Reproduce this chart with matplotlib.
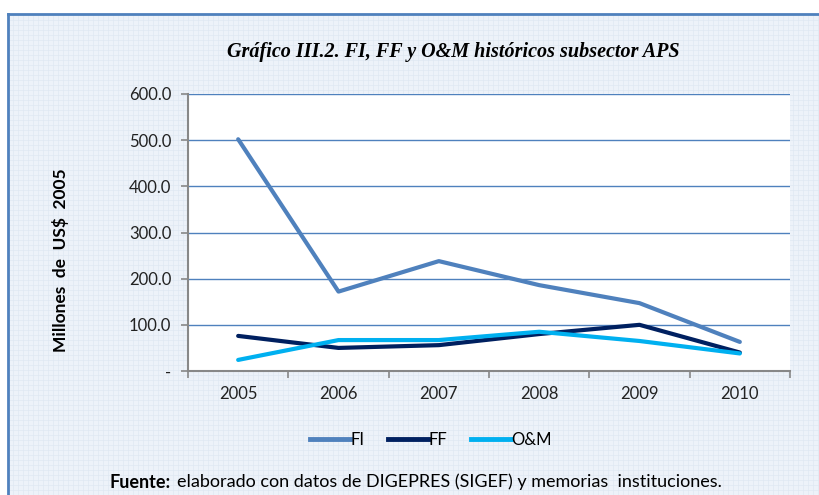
import numpy as np
from matplotlib import pyplot as plt
from matplotlib.lines import Line2D

years = ['2005', '2006', '2007', '2008', '2009', '2010']
fi = [502, 172, 238, 186, 147, 63]
ff = [76, 50, 56, 80, 100, 40]
om = [24, 67, 67, 85, 65, 38]
yticks = [0, 100, 200, 300, 400, 500, 600]
ytick_labels = ['-', '100.0', '200.0', '300.0', '400.0', '500.0', '600.0']

W, H = 820, 495
fig = plt.figure(figsize=(W / 100, H / 100), dpi=100, facecolor='white')

# background panel with the graph-paper look
bg = fig.add_axes([8 / W, 0, (W - 8) / W, (H - 14) / H], zorder=0)
bg.set_facecolor('#edf2f9')
bg.set_xlim(0, W - 8)
bg.set_ylim(0, H - 14)
for v in np.arange(0, W, 5):
    bg.axvline(v, color='#e0e8f3', lw=0.5, zorder=0)
for v in np.arange(0, H, 5):
    bg.axhline(v, color='#e0e8f3', lw=0.5, zorder=0)
bg.set_xticks([])
bg.set_yticks([])
for s in ['right', 'bottom']:
    bg.spines[s].set_visible(False)
for s in ['left', 'top']:
    bg.spines[s].set_color('#4f81bd')
    bg.spines[s].set_linewidth(2)

# plot area
ax = fig.add_axes([188 / W, 1 - 371 / H, 602 / W, 277 / H], zorder=2)
ax.set_facecolor('white')
x = np.arange(len(years))
ax.plot(x, fi, color='#4f81bd', lw=3, solid_capstyle='round', label='FI', zorder=3)
ax.plot(x, ff, color='#002060', lw=3, solid_capstyle='round', label='FF', zorder=3)
ax.plot(x, om, color='#00b0f0', lw=3, solid_capstyle='round', label='O&M', zorder=3)

ax.set_xlim(-0.5, len(years) - 0.5)
ax.set_ylim(0, 600)
ax.set_yticks(yticks)
ax.set_yticklabels(ytick_labels, fontfamily='Lato', fontsize=12, color='#222222')
ax.set_xticks(x)
ax.set_xticklabels(years, fontfamily='Lato', fontsize=12, color='#222222')
ax.set_xticks(np.arange(-0.5, len(years)), minor=True)
ax.tick_params(axis='x', which='major', length=0, pad=11)
ax.tick_params(axis='x', which='minor', length=5, color='#888888', width=1.2)
ax.tick_params(axis='y', length=5, color='#888888', width=1.2, pad=7)
ax.yaxis.grid(True, color='#4f81bd', lw=1)
ax.set_axisbelow(True)
for s in ['top', 'right']:
    ax.spines[s].set_visible(False)
for s in ['left', 'bottom']:
    ax.spines[s].set_color('#888888')
    ax.spines[s].set_linewidth(1.5)
ax.set_ylabel('Millones  de  US$  2005', fontfamily='Lato', fontweight='bold',
              fontsize=12.5)
ax.yaxis.set_label_coords(-0.198, 0.40)

fig.text(0.553, 1 - 52 / H, 'Gráfico III.2. FI, FF y O&M históricos subsector APS',
         ha='center', va='center', fontfamily='Liberation Serif', fontstyle='italic',
         fontweight='bold', fontsize=14.5)

handles = [Line2D([], [], color='#4f81bd', lw=3.5),
           Line2D([], [], color='#002060', lw=3.5),
           Line2D([], [], color='#00b0f0', lw=3.5)]
fig.legend(handles, ['FI', 'FF', 'O&M'], loc='center', bbox_to_anchor=(431 / W, 1 - 440 / H),
           ncol=3, frameon=False, handlelength=2.4, handletextpad=0.05, columnspacing=1.4,
           prop={'family': 'Lato', 'size': 12})

t1 = fig.text(110 / W, 1 - 482 / H, 'Fuente:', ha='left', va='center',
              fontfamily='Lato', fontweight='bold', fontsize=13)
fig.canvas.draw()
bb = t1.get_window_extent()
fig.text((bb.x1 + 6) / W, 1 - 482 / H, 'elaborado con datos de DIGEPRES (SIGEF) y memorias  instituciones.',
         ha='left', va='center', fontfamily='Lato', fontsize=13)

fig.savefig('out.png', dpi=100, facecolor='white')
